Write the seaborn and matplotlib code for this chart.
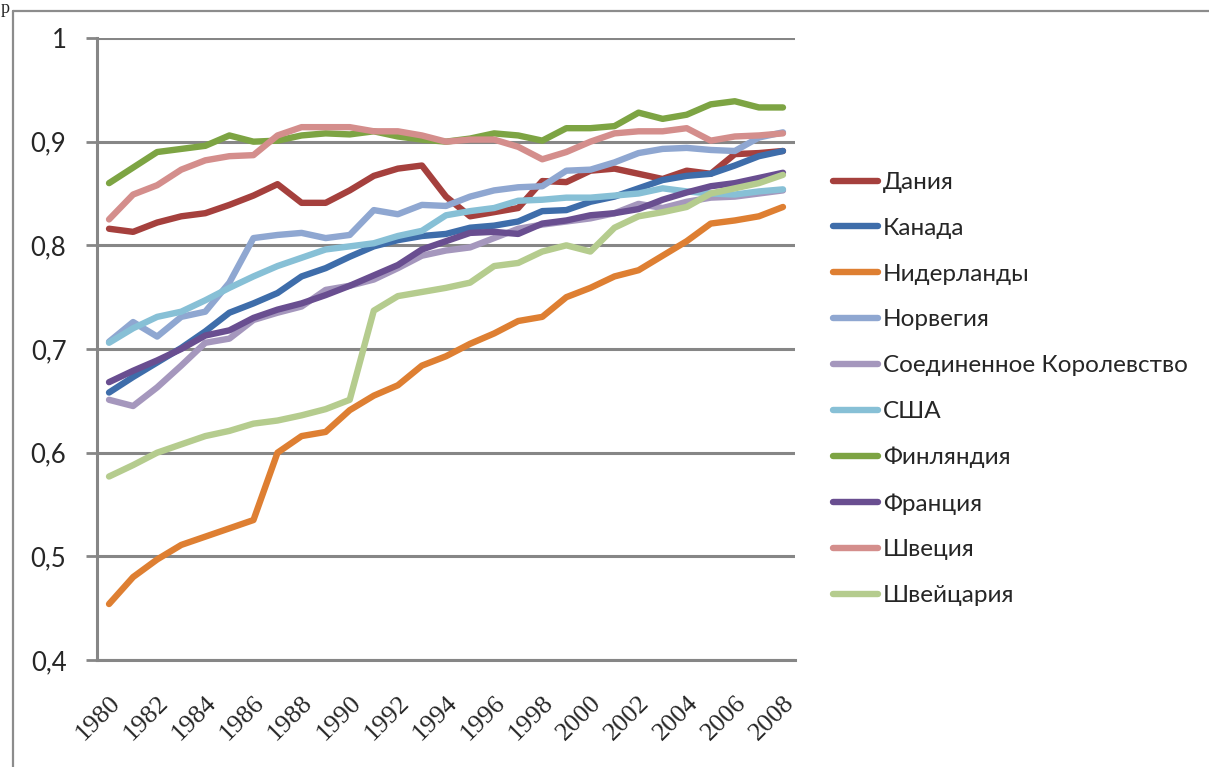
"""Line chart: index by country, 1980-2008."""

import matplotlib.pyplot as plt
import numpy as np
import pandas as pd
import seaborn as sns
from matplotlib.lines import Line2D

years = list(range(1980, 2009))

countries = [
    "Дания",
    "Канада",
    "Нидерланды",
    "Норвегия",
    "Соединенное Королевство",
    "США",
    "Финляндия",
    "Франция",
    "Швеция",
    "Швейцария",
]

denmark = [0.816, 0.813, 0.822, 0.828, 0.831, 0.839, 0.848, 0.859, 0.841, 0.841,
           0.853, 0.867, 0.874, 0.877, 0.847, 0.828, 0.832, 0.836, 0.862, 0.861,
           0.872, 0.874, 0.869, 0.864, 0.872, 0.869, 0.888, 0.889, 0.891]
canada = [0.658, 0.673, 0.687, 0.701, 0.717, 0.735, 0.744, 0.754, 0.770, 0.778,
          0.789, 0.799, 0.805, 0.809, 0.811, 0.817, 0.819, 0.823, 0.833, 0.834,
          0.842, 0.847, 0.855, 0.863, 0.867, 0.869, 0.877, 0.886, 0.891]
netherlands = [0.454, 0.480, 0.497, 0.511, 0.519, 0.527, 0.535, 0.600, 0.616, 0.620,
               0.641, 0.655, 0.665, 0.684, 0.693, 0.705, 0.715, 0.727, 0.731, 0.750,
               0.759, 0.770, 0.776, 0.790, 0.804, 0.821, 0.824, 0.828, 0.837]
norway = [0.707, 0.726, 0.712, 0.731, 0.736, 0.764, 0.807, 0.810, 0.812, 0.807,
          0.810, 0.834, 0.830, 0.839, 0.838, 0.847, 0.853, 0.856, 0.857, 0.872,
          0.873, 0.880, 0.889, 0.893, 0.894, 0.892, 0.891, 0.904, 0.909]
uk = [0.651, 0.645, 0.663, 0.684, 0.706, 0.710, 0.728, 0.735, 0.741, 0.757,
      0.761, 0.767, 0.778, 0.790, 0.795, 0.798, 0.807, 0.816, 0.820, 0.823,
      0.826, 0.831, 0.840, 0.836, 0.842, 0.846, 0.847, 0.850, 0.853]
usa = [0.706, 0.720, 0.731, 0.736, 0.747, 0.759, 0.770, 0.780, 0.788, 0.796,
       0.799, 0.802, 0.809, 0.814, 0.829, 0.833, 0.836, 0.843, 0.844, 0.846,
       0.846, 0.848, 0.850, 0.855, 0.852, 0.850, 0.849, 0.852, 0.854]
finland = [0.860, 0.875, 0.890, 0.893, 0.896, 0.906, 0.900, 0.901, 0.906, 0.908,
           0.907, 0.910, 0.905, 0.902, 0.900, 0.903, 0.908, 0.906, 0.901, 0.913,
           0.913, 0.915, 0.928, 0.922, 0.926, 0.936, 0.939, 0.933, 0.933]
france = [0.668, 0.679, 0.689, 0.700, 0.713, 0.718, 0.730, 0.738, 0.744, 0.752,
          0.761, 0.771, 0.781, 0.796, 0.804, 0.812, 0.813, 0.811, 0.821, 0.824,
          0.829, 0.831, 0.835, 0.844, 0.851, 0.857, 0.860, 0.865, 0.870]
sweden = [0.825, 0.849, 0.858, 0.873, 0.882, 0.886, 0.887, 0.906, 0.914, 0.914,
          0.914, 0.910, 0.910, 0.906, 0.900, 0.902, 0.902, 0.895, 0.883, 0.890,
          0.900, 0.908, 0.910, 0.910, 0.913, 0.901, 0.905, 0.906, 0.908]
switzerland = [0.577, 0.588, 0.600, 0.608, 0.616, 0.621, 0.628, 0.631, 0.636, 0.642,
               0.651, 0.737, 0.751, 0.755, 0.759, 0.764, 0.780, 0.783, 0.794, 0.800,
               0.794, 0.817, 0.828, 0.832, 0.837, 0.850, 0.855, 0.860, 0.868]

y_ticks = [0.4, 0.5, 0.6, 0.7, 0.8, 0.9, 1.0]
y_tick_labels = ["0,4", "0,5", "0,6", "0,7", "0,8", "0,9", "1"]

colors = ["#A5403D", "#3E6DAA", "#DE7F32", "#8FA7D1", "#A597BD",
          "#87C0D6", "#7DA443", "#694E90", "#D48E8C", "#B5CC8E"]

series = [denmark, canada, netherlands, norway, uk, usa, finland, france, sweden, switzerland]
frames = [pd.DataFrame({"pos": np.arange(len(years)), "value": values, "country": name})
          for name, values in zip(countries, series)]
data = pd.concat(frames, ignore_index=True)

sns.set_theme(style="white")
plt.rcParams["font.family"] = ["Lato", "Open Sans", "DejaVu Sans"]
grid_color = "#868686"

fig = plt.figure(figsize=(12.09, 7.67), dpi=100)
ax = fig.add_axes([97 / 1209, 1 - 660 / 767, 698 / 1209, 622 / 767])

sns.lineplot(
    data=data, x="pos", y="value", hue="country", hue_order=countries,
    palette=dict(zip(countries, colors)), linewidth=4.6, legend=False,
    solid_capstyle="round", solid_joinstyle="round", ax=ax, zorder=3,
)

ax.set_xlim(-0.5, len(years) - 0.5)
ax.set_ylim(0.4, 1.0)
ax.set_yticks(y_ticks)
ax.set_yticklabels(y_tick_labels, fontsize=18.5)
ax.yaxis.grid(True, color=grid_color, linewidth=2.2)
ax.set_axisbelow(True)

label_pos = np.arange(0, len(years), 2)
ax.set_xticks(label_pos)
ax.set_xticklabels([str(years[i]) for i in label_pos], rotation=45, ha="right",
                   rotation_mode="anchor", fontsize=19,
                   family=["Liberation Serif", "DejaVu Serif"])
ax.set_xticks(np.arange(-0.5, len(years)), minor=True)
ax.tick_params(axis="x", which="major", length=0, pad=23)
ax.tick_params(axis="x", which="minor", length=7, width=2, color=grid_color, direction="out")
ax.tick_params(axis="y", length=8, width=2, color=grid_color, direction="out", pad=14,
               left=True)
ax.set_xlabel("")
ax.set_ylabel("")

for side in ["top", "right"]:
    ax.spines[side].set_visible(False)
for side in ["left", "bottom"]:
    ax.spines[side].set_color(grid_color)
    ax.spines[side].set_linewidth(2.2)

handles = [Line2D([0], [0], color=c, linewidth=4.6, solid_capstyle="round") for c in colors]
fig.legend(handles, countries, loc="upper left", bbox_to_anchor=(833 / 1209, 1 - 172 / 767),
           frameon=False, fontsize=17.5, handlelength=1.85, handletextpad=0.2,
           labelspacing=1.02, borderaxespad=0, borderpad=0)

# outer frame of the chart object
fig.add_artist(Line2D([13 / 1209, 1], [1 - 11 / 767, 1 - 11 / 767], color="#8c8c8c",
                      linewidth=1.6, transform=fig.transFigure))
fig.add_artist(Line2D([13 / 1209, 13 / 1209], [0, 1 - 11 / 767], color="#8c8c8c",
                      linewidth=1.6, transform=fig.transFigure))
fig.text(1 / 1209, 1.0, "р", fontsize=13, va="top", ha="left", family="Liberation Serif")

fig.savefig("out.png", dpi=100)
